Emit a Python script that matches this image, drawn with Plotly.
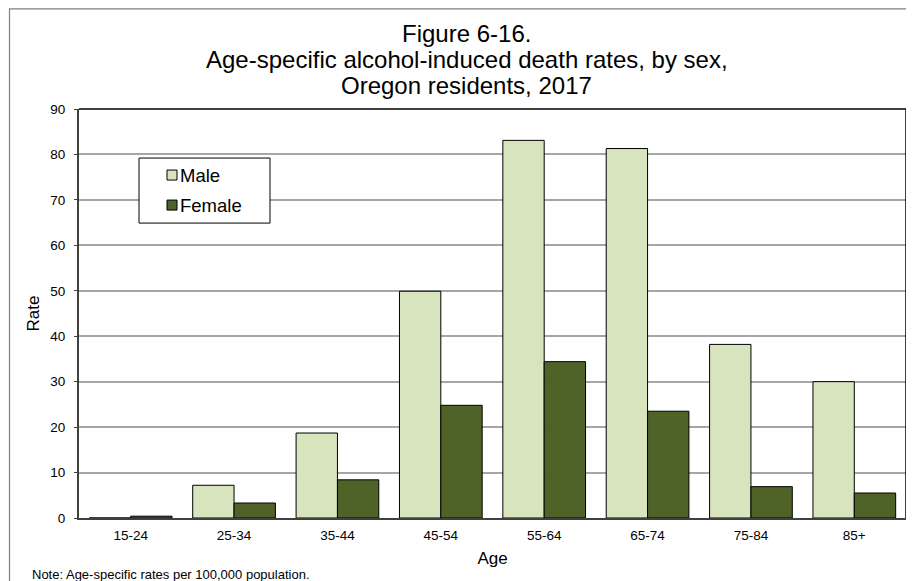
import plotly.graph_objects as go

ages = ["15-24", "25-34", "35-44", "45-54", "55-64", "65-74", "75-84", "85+"]
male = [0.0, 7.2, 18.7, 49.9, 83.1, 81.3, 38.2, 30.0]
female = [0.4, 3.3, 8.4, 24.8, 34.4, 23.5, 6.9, 5.5]
y_ticks = [0, 10, 20, 30, 40, 50, 60, 70, 80, 90]
title_lines = ["Figure 6-16.",
               "Age-specific alcohol-induced death rates, by sex,",
               "Oregon residents, 2017"]
legend_names = ["Male", "Female"]
colors = ["#D7E4BD", "#4F6228"]

FONT = "Liberation Sans, Arial, sans-serif"

# page body has an 8px margin; work in page coordinates and convert
OFF = 8
PAGE_W, PAGE_H = 914, 581
W, H = PAGE_W - OFF, PAGE_H - OFF
# plot area in page coordinates
P_LEFT, P_RIGHT, P_TOP, P_BOTTOM = 79, 906, 109, 517.7
L = P_LEFT - OFF
R = W - (P_RIGHT - OFF)
T = P_TOP - OFF
B = H - (P_BOTTOM - OFF)
pw = P_RIGHT - P_LEFT
ph = P_BOTTOM - P_TOP


def px_x(p):
    return (p - P_LEFT) / pw


def px_y(p):
    return (P_BOTTOM - p) / ph


fig = go.Figure()
for name, vals, col in zip(legend_names, [male, female], colors):
    fig.add_trace(go.Bar(x=ages, y=vals, name=name, showlegend=False,
                         marker=dict(color=col, line=dict(color="#000000", width=1))))

shapes = [
    # plot top/right border
    dict(type="line", xref="paper", yref="paper", x0=0, x1=1, y0=1, y1=1,
         line=dict(color="#000000", width=1.5)),
    dict(type="line", xref="paper", yref="paper", x0=1, x1=1, y0=0, y1=1,
         line=dict(color="#000000", width=1.5)),
    # legend box
    dict(type="rect", xref="paper", yref="paper",
         x0=px_x(139), x1=px_x(270), y0=px_y(223), y1=px_y(158),
         line=dict(color="#000000", width=1), fillcolor="white", layer="above"),
    # outer chart border
    dict(type="rect", xref="paper", yref="paper",
         x0=px_x(9.5), x1=px_x(940), y0=px_y(620), y1=px_y(9),
         line=dict(color="#808080", width=1.2), fillcolor="rgba(0,0,0,0)"),
]

annotations = []
for text, yc in zip(title_lines, [33.5, 60, 86]):
    annotations.append(dict(text=text, xref="paper", yref="paper",
                            x=px_x(466.5), y=px_y(yc), xanchor="center", yanchor="middle",
                            showarrow=False, font=dict(size=24, family=FONT, color="#000000")))

for name, col, yc in zip(legend_names, colors, [175, 205]):
    shapes.append(dict(type="rect", xref="paper", yref="paper",
                       x0=px_x(167), x1=px_x(177), y0=px_y(yc + 5), y1=px_y(yc - 5),
                       line=dict(color="#000000", width=1), fillcolor=col, layer="above"))
    annotations.append(dict(text=name, xref="paper", yref="paper",
                            x=px_x(178), y=px_y(yc), xanchor="left", yanchor="middle",
                            showarrow=False, font=dict(size=18.5, family=FONT, color="#000000")))

annotations.append(dict(text="Note: Age-specific rates per 100,000 population.",
                        xref="paper", yref="paper", x=px_x(29.5), y=px_y(574),
                        xanchor="left", yanchor="middle", showarrow=False,
                        font=dict(size=13, family=FONT, color="#000000")))

fig.update_layout(
    width=W, height=H,
    margin=dict(l=L, r=R, t=T, b=B, pad=0),
    paper_bgcolor="white", plot_bgcolor="white",
    font=dict(family=FONT, size=13.33, color="#000000"),
    barmode="group", bargap=0.2, bargroupgap=0,
    showlegend=False,
    xaxis=dict(showgrid=False, showline=True, linecolor="#404040", linewidth=2,
               ticks="", tickfont=dict(size=13.5), ticklabelstandoff=4,
               title=dict(text="Age", font=dict(size=17), standoff=10),
               fixedrange=True),
    yaxis=dict(range=[0, 90], tickvals=y_ticks, showgrid=True,
               gridcolor="#A6A6A6", gridwidth=1.5,
               showline=True, linecolor="#404040", linewidth=2,
               ticks="outside", ticklen=3, tickcolor="#404040",
               tickfont=dict(size=13.5), ticklabelstandoff=6,
               title=dict(text="Rate", font=dict(size=17), standoff=6),
               zeroline=False, fixedrange=True),
    shapes=shapes,
    annotations=annotations,
)

fig.write_html("out.html")
